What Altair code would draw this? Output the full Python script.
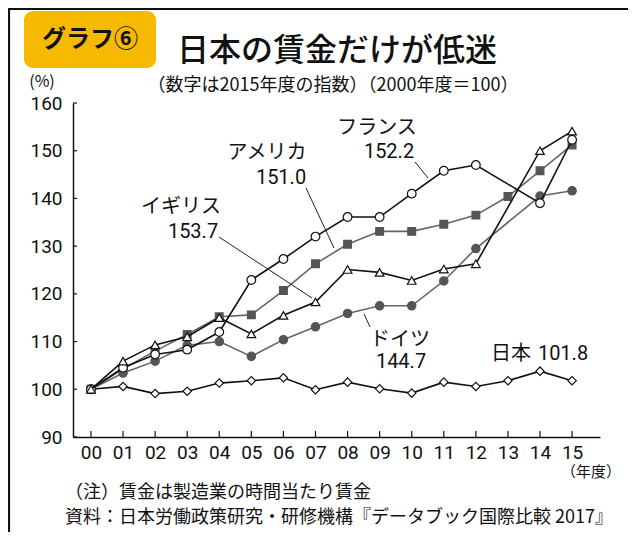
import altair as alt
import pandas as pd

# ---------------- data ----------------
years = list(range(16))  # 2000 .. 2015 (fiscal years "00".."15")
japan   = [100, 100.6, 99.1, 99.6, 101.3, 101.8, 102.4, 99.9, 101.5, 100.1, 99.2, 101.5, 100.6, 101.8, 103.8, 101.8]
usa     = [100, 104.3, 108.0, 111.5, 115.2, 115.6, 120.7, 126.3, 130.4, 133.1, 133.1, 134.6, 136.5, 140.4, 145.8, 151.2]
france  = [100, 104.5, 107.3, 108.3, 112.0, 122.9, 127.3, 132.0, 136.1, 136.1, 141.0, 145.8, 147.0, None, 139.0, 152.3]
uk      = [100, 105.9, 109.3, 111.0, 115.0, 111.6, 115.5, 118.3, 125.1, 124.5, 122.8, 125.2, 126.3, None, 150.0, 154.1]
germany = [100, 103.4, 105.9, 109.2, 110.0, 106.9, 110.4, 113.1, 115.9, 117.5, 117.5, 122.7, 129.5, None, 140.5, 141.6]

y_ticks = [90, 100, 110, 120, 130, 140, 150, 160]
x_ticks = years

JP = "Noto Sans CJK JP"
NUM = "Liberation Sans Narrow, Roboto, sans-serif"

xscale = alt.Scale(domain=[-0.56, 15.87], nice=False, zero=False)
yscale = alt.Scale(domain=[90, 160], nice=False, zero=False)
xaxis = alt.Axis(values=x_ticks, labelExpr="(datum.value < 10 ? '0' : '') + datum.value",
                 title="", grid=False, ticks=False, tickSize=0, labelPadding=6,
                 labelFont=NUM, labelFontSize=19, labelColor="#111",
                 domainColor="#111", domainWidth=1.5)
yaxis = alt.Axis(values=y_ticks, title="", grid=False, ticks=False, tickSize=0,
                 labelPadding=11, labelFont=NUM, labelFontSize=19, labelColor="#111",
                 domainColor="#111", domainWidth=1.5)


def series(values, line_color, shape, fill, stroke, size):
    df = pd.DataFrame({"year": years, "value": values}).dropna()
    base = alt.Chart(df).encode(
        x=alt.X("year:Q", scale=xscale, axis=xaxis),
        y=alt.Y("value:Q", scale=yscale, axis=yaxis),
    )
    line = base.mark_line(color=line_color, strokeWidth=1.6)
    pts = base.mark_point(shape=shape, filled=True, fill=fill, stroke=stroke,
                          strokeWidth=1.2, size=size, opacity=1)
    return [line, pts]


one = pd.DataFrame({"k": [0]})


def txt(s, x, y, size, font=JP, weight="normal", align="center", color="#111"):
    return alt.Chart(one).mark_text(text=s, font=font, fontSize=size, fontWeight=weight,
                                    align=align, baseline="middle", color=color).encode(
        x=alt.value(x), y=alt.value(y))


def seg(x1, y1, x2, y2, w=1.0, color="#222"):
    return alt.Chart(one).mark_rule(color=color, strokeWidth=w).encode(
        x=alt.value(x1), x2=alt.value(x2), y=alt.value(y1), y2=alt.value(y2))


layers = []
# inward ticks
layers.append(alt.Chart(pd.DataFrame({"v": y_ticks})).mark_rule(color="#111", strokeWidth=1.2).encode(
    y=alt.Y("v:Q", scale=yscale, axis=yaxis), x=alt.value(0), x2=alt.value(4)))
layers.append(alt.Chart(pd.DataFrame({"v": x_ticks})).mark_rule(color="#111", strokeWidth=1.2).encode(
    x=alt.X("v:Q", scale=xscale, axis=xaxis), y=alt.value(334), y2=alt.value(328)))

# series: gray ones underneath, black ones on top
layers += series(germany, "#666", "circle", "#555", "#555", 70)
layers += series(usa, "#666", "square", "#555", "#555", 60)
layers += series(japan, "#111", "diamond", "white", "#111", 70)
layers += series(france, "#111", "circle", "white", "#111", 75)
layers += series(uk, "#111", "triangle-up", "white", "#111", 75)

# leader lines
layers += [
    seg(146, 134, 239, 195),
    seg(233, 85, 261, 145),
    seg(342, 59, 355, 75),
    seg(291, 211, 297, 224),
]

# series labels
layers += [
    txt("フランス", 304, 25, 20),
    txt("152.2", 316, 49, 20, font=NUM),
    txt("アメリカ", 194, 50, 20),
    txt("151.0", 208, 75, 20, font=NUM),
    txt("イギリス", 108, 104, 20),
    txt("153.7", 120, 129, 20, font=NUM),
    txt("ドイツ", 327, 237, 20),
    txt("144.7", 328, 259, 20, font=NUM),
    txt("日本", 438, 251, 20),
    txt("101.8", 490, 251, 20, font=NUM),
]

# frame, badge, titles, notes
layers += [
    seg(-65, -94, 560, -94, w=2.2, color="#111"),
    seg(-64, -95, -64, 430, w=2.2, color="#111"),
    alt.Chart(one).mark_rect(color="#F6B900", cornerRadius=9).encode(
        x=alt.value(-49), x2=alt.value(83), y=alt.value(-92), y2=alt.value(-35)),
    txt("グラフ⑥", 17, -63, 24, weight="bold"),
    txt("日本の賃金だけが低迷", 264, -52, 32, weight=500),
    txt("（数字は2015年度の指数）（2000年度＝100）", 260, -17, 18),
    txt("(%)", -31, -21, 16),
    txt("（年度）", 518, 369, 15),
    txt("（注）賃金は製造業の時間当たり賃金", -8, 390, 18, align="left"),
    txt("資料：日本労働政策研究・研修機構『データブック国際比較 2017』", -8, 415, 18, align="left"),
]

chart = alt.layer(*layers).properties(
    width=527, height=334,
    autosize=alt.AutoSizeParams(type="none"),
    padding={"left": 65, "top": 95, "right": 28, "bottom": 95},
    background="white",
).configure_view(strokeWidth=0)

chart.save("out.html", embed_options={"renderer": "svg", "actions": False})
